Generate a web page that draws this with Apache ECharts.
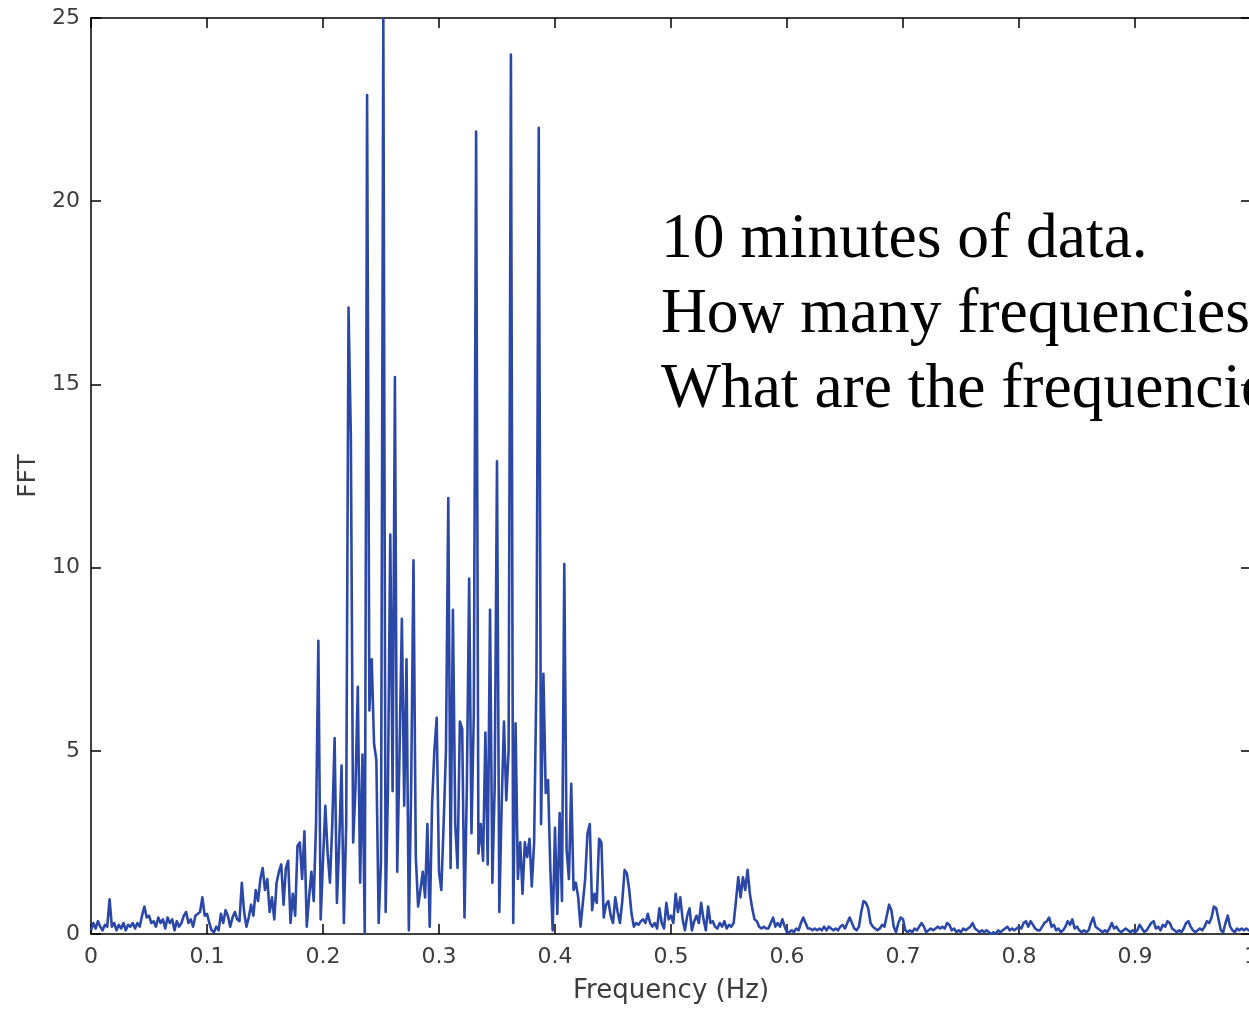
<!DOCTYPE html>
<html>
<head>
<meta charset="utf-8">
<script src="https://cdn.jsdelivr.net/npm/echarts@6/dist/echarts.min.js"></script>
<style>
html,body{margin:0;padding:0;background:#fff;overflow:hidden;}
#chart{width:1249px;height:1010px;}
</style>
</head>
<body>
<div id="chart"></div>
<script>
// Frequency grid: 0 .. 1 Hz, one sample every 0.002 Hz
const freqStep = 0.002;
// FFT magnitude, one value per frequency sample
const fftValues = [
  0.1, 0.3, 0.15, 0.35, 0.2, 0.1, 0.25, 0.2, 0.95, 0.2,
  0.3, 0.1, 0.25, 0.15, 0.3, 0.1, 0.25, 0.2, 0.3, 0.15,
  0.3, 0.2, 0.5, 0.75, 0.45, 0.5, 0.3, 0.35, 0.2, 0.45,
  0.3, 0.4, 0.15, 0.45, 0.3, 0.4, 0.1, 0.35, 0.2, 0.3,
  0.5, 0.6, 0.3, 0.4, 0.2, 0.5, 0.55, 0.6, 1.0, 0.5,
  0.55, 0.3, 0.1, 0.05, 0.2, 0.1, 0.55, 0.3, 0.65, 0.5,
  0.2, 0.45, 0.6, 0.4, 0.35, 1.4, 0.6, 0.2, 0.45, 0.8,
  0.5, 1.2, 0.9, 1.5, 1.8, 1.2, 1.5, 0.6, 1.0, 0.4,
  1.4, 1.7, 1.9, 0.8, 1.8, 2.0, 0.3, 1.1, 0.5, 2.4,
  2.5, 1.5, 2.8, 0.2, 1.0, 1.7, 0.9, 3.0, 8.0, 0.4,
  2.0, 3.5, 2.2, 1.4, 3.0, 5.35, 0.85, 2.5, 4.6, 0.3,
  3.0, 17.1, 13.6, 2.5, 4.0, 6.75, 1.4, 4.9, 0.0, 22.9,
  6.1, 7.5, 5.2, 4.75, 0.3, 2.0, 25, 0.6, 4.0, 10.9,
  3.9, 15.2, 1.7, 5.0, 8.6, 3.5, 7.5, 0.1, 4.0, 10.2,
  2.1, 0.75, 1.2, 1.7, 1.0, 3.0, 0.2, 3.5, 5.0, 5.9,
  1.7, 1.2, 3.0, 5.0, 11.9, 1.8, 8.85, 3.0, 1.8, 5.8,
  5.6, 0.45, 4.0, 9.7, 2.75, 6.0, 21.9, 2.2, 3.0, 2.0,
  5.5, 1.9, 8.85, 1.4, 4.0, 12.9, 0.6, 3.5, 5.8, 3.65,
  5.0, 24, 0.3, 5.75, 1.5, 2.5, 1.1, 2.5, 2.1, 2.6,
  1.3, 2.5, 7.0, 22, 3.0, 7.1, 3.85, 4.2, 1.75, 0.1,
  2.9, 0.55, 3.3, 0.9, 10.1, 2.3, 1.5, 4.1, 1.2, 1.4,
  1.0, 0.2, 0.85, 1.5, 2.75, 3.0, 0.65, 1.1, 0.85, 2.6,
  2.5, 0.45, 0.8, 0.9, 0.5, 0.3, 1.0, 0.6, 0.3, 0.9,
  1.75, 1.65, 1.2, 0.55, 0.2, 0.3, 0.25, 0.35, 0.4, 0.3,
  0.55, 0.3, 0.2, 0.3, 0.15, 0.7, 0.3, 0.15, 0.85, 0.4,
  0.5, 0.3, 1.1, 0.6, 1.0, 0.4, 0.1, 0.5, 0.7, 0.1,
  0.35, 0.5, 0.3, 0.85, 0.4, 0.1, 0.75, 0.3, 0.35, 0.2,
  0.15, 0.3, 0.2, 0.35, 0.15, 0.25, 0.2, 0.3, 0.9, 1.55,
  1.0, 1.55, 1.2, 1.75, 1.1, 0.7, 0.4, 0.35, 0.2, 0.15,
  0.2, 0.15, 0.15, 0.3, 0.45, 0.2, 0.3, 0.2, 0.4, 0.2,
  0.05, 0.05, 0.1, 0.05, 0.15, 0.1, 0.3, 0.45, 0.3, 0.15,
  0.15, 0.1, 0.15, 0.1, 0.15, 0.1, 0.2, 0.1, 0.2, 0.15,
  0.1, 0.15, 0.1, 0.2, 0.25, 0.15, 0.3, 0.45, 0.3, 0.15,
  0.1, 0.2, 0.6, 0.9, 0.85, 0.7, 0.3, 0.2, 0.15, 0.1,
  0.15, 0.25, 0.2, 0.5, 0.8, 0.65, 0.2, 0.05, 0.3, 0.45,
  0.4, 0.1, 0.05, 0.1, 0.05, 0.15, 0.1, 0.2, 0.3, 0.2,
  0.05, 0.1, 0.15, 0.1, 0.15, 0.2, 0.15, 0.2, 0.15, 0.3,
  0.25, 0.1, 0.15, 0.05, 0.1, 0.05, 0.15, 0.1, 0.15, 0.2,
  0.3, 0.15, 0.1, 0.05, 0.1, 0.05, 0.1, 0.05, 0.0, 0.05,
  0.0, 0.1, 0.05, 0.1, 0.15, 0.2, 0.1, 0.15, 0.1, 0.15,
  0.2, 0.15, 0.3, 0.35, 0.2, 0.35, 0.25, 0.15, 0.1, 0.1,
  0.2, 0.3, 0.35, 0.45, 0.2, 0.25, 0.1, 0.15, 0.05, 0.1,
  0.2, 0.35, 0.25, 0.4, 0.15, 0.2, 0.1, 0.05, 0.1, 0.05,
  0.1, 0.3, 0.45, 0.2, 0.15, 0.1, 0.05, 0.1, 0.05, 0.15,
  0.3, 0.15, 0.2, 0.1, 0.05, 0.1, 0.15, 0.1, 0.05, 0.1,
  0.05, 0.1, 0.25, 0.15, 0.05, 0.1, 0.2, 0.3, 0.35, 0.15,
  0.2, 0.1, 0.25, 0.2, 0.35, 0.3, 0.15, 0.1, 0.05, 0.1,
  0.05, 0.15, 0.3, 0.35, 0.2, 0.1, 0.05, 0.1, 0.15, 0.1,
  0.2, 0.35, 0.3, 0.45, 0.75, 0.7, 0.4, 0.1, 0.05, 0.3,
  0.5, 0.2, 0.1, 0.05, 0.15, 0.1, 0.15, 0.1, 0.15, 0.1,
  0.1
];
const xTickLabels = ['0','0.1','0.2','0.3','0.4','0.5','0.6','0.7','0.8','0.9','1'];
const yTickLabels = ['0','5','10','15','20','25'];
const xAxisName = 'Frequency (Hz)';
const yAxisName = 'FFT';
const noteLines = ['10 minutes of data.', 'How many frequencies?', 'What are the frequencies?'];

const seriesData = fftValues.map((v, i) => [+(i * freqStep).toFixed(3), v]);

const chart = echarts.init(document.getElementById('chart'), null, {renderer: 'canvas'});
const labelFont = {fontFamily: 'DejaVu Sans', fontSize: 22, color: '#3c3c3c'};
const axisLineStyle = {color: '#000', width: 1.5};
const tickStyle = {color: '#000', width: 1.5};

chart.setOption({
  animation: false,
  backgroundColor: '#fff',
  grid: {left: 91, top: 18, width: 1160, height: 916, containLabel: false, outerBoundsMode: 'none'},
  xAxis: [{
    type: 'value', min: 0, max: 1, interval: 0.1, position: 'bottom',
    axisLine: {show: true, onZero: false, lineStyle: axisLineStyle},
    axisTick: {show: true, inside: true, length: 10, lineStyle: tickStyle},
    splitLine: {show: false},
    axisLabel: Object.assign({margin: 12, formatter: v => xTickLabels[Math.round(v * 10)]}, labelFont),
    name: xAxisName, nameLocation: 'middle', nameGap: 44,
    nameTextStyle: {fontFamily: 'DejaVu Sans', fontSize: 26, color: '#3c3c3c'}
  }, {
    type: 'value', min: 0, max: 1, interval: 0.1, position: 'top',
    axisLine: {show: true, onZero: false, lineStyle: axisLineStyle},
    axisTick: {show: true, inside: true, length: 10, lineStyle: tickStyle},
    splitLine: {show: false}, axisLabel: {show: false}
  }],
  yAxis: [{
    type: 'value', min: 0, max: 25, interval: 5, position: 'left',
    axisLine: {show: true, onZero: false, lineStyle: axisLineStyle},
    axisTick: {show: true, inside: true, length: 10, lineStyle: tickStyle},
    splitLine: {show: false},
    axisLabel: Object.assign({margin: 11, formatter: v => yTickLabels[Math.round(v / 5)]}, labelFont),
    name: yAxisName, nameLocation: 'middle', nameGap: 50, nameRotate: 90,
    nameTextStyle: {fontFamily: 'DejaVu Sans', fontSize: 25, color: '#3c3c3c'}
  }, {
    type: 'value', min: 0, max: 25, interval: 5, position: 'right',
    axisLine: {show: true, onZero: false, lineStyle: axisLineStyle},
    axisTick: {show: true, inside: true, length: 10, lineStyle: tickStyle},
    splitLine: {show: false}, axisLabel: {show: false}
  }],
  series: [{
    type: 'line', xAxisIndex: 0, yAxisIndex: 0,
    data: seriesData, showSymbol: false, symbol: 'none',
    lineStyle: {color: '#2b48a8', width: 2.6, join: 'round'},
    itemStyle: {color: '#2b48a8'},
    clip: true, silent: true
  }],
  graphic: noteLines.map((t, k) => ({
    type: 'text', left: 661, top: 208 + k * 75, z: 100,
    style: {text: t, font: '63.5px "Liberation Serif", "Times New Roman", serif', fill: '#000'}
  }))
});
</script>
</body>
</html>
